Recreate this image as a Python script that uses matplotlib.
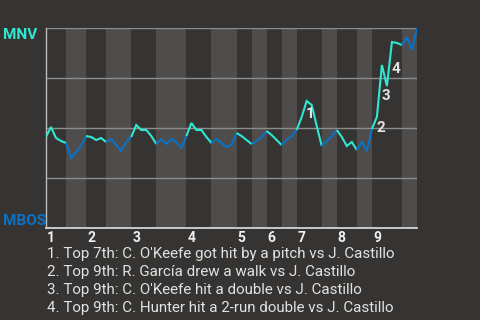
import matplotlib
matplotlib.use("Agg")
import matplotlib.pyplot as plt
import numpy as np

plt.rcParams['font.family'] = ['Roboto', 'DejaVu Sans']

# ---- data ----
away_team = "MNV"
home_team = "MBOS"
innings = ["1", "2", "3", "4", "5", "6", "7", "8", "9"]
# plate appearances per half-inning (top 1, bottom 1, top 2, ...)
half_pa = [4, 4, 4, 5, 5, 6, 5, 5, 3, 3, 3, 3, 5, 3, 4, 3, 6, 3]
# MNV win probability (%) after each plate appearance
win_prob = [45.5, 50.5, 45, 43.5, 42.5, 35, 38, 41, 46, 45.5,
            44, 45, 43, 44.5, 41.5, 38.5, 43, 45.5, 51.5, 49,
            49, 46, 42, 44.5, 42, 44.5, 43, 40, 46, 52.5,
            49, 49, 45.5, 42.5, 44.5, 42.5, 40.5, 41.5, 47.5, 46,
            44, 42, 43.5, 45.5, 48.5, 46.5, 44, 41.5, 44, 46,
            49, 55.5, 63.5, 61.5, 51, 41, 43.5, 46, 49, 45.5,
            41, 43, 39, 43, 38.5, 49.5, 55.5, 81.5, 71, 93,
            92.5, 91.5, 95.5, 89, 100]
event_index = [52, 66, 67, 69]
event_labels = ["1", "2", "3", "4"]
event_texts = [
    "1. Top 7th: C. O'Keefe got hit by a pitch vs J. Castillo",
    "2. Top 9th: R. García drew a walk vs J. Castillo",
    "3. Top 9th: C. O'Keefe hit a double vs J. Castillo",
    "4. Top 9th: C. Hunter hit a 2-run double vs J. Castillo",
]

# ---- style ----
BG = "#363432"
STRIPE = "#4f4d4b"
CYAN = "#2ee8d4"
BLUE = "#0a72c6"
GRID = "#8c8c8c"
TXT = "#e2e2e2"

W, H = 480, 320
fig = plt.figure(figsize=(W / 100, H / 100), dpi=100, facecolor=BG)
ax = fig.add_axes([46 / W, 1 - 228 / H, (417 - 46) / W, 200 / H])
ax.set_facecolor(BG)

bounds = np.concatenate([[0], np.cumsum(half_pa)])
n_total = bounds[-1]
ax.set_xlim(0, n_total)
ax.set_ylim(0, 100)

# stripes for bottom halves
for h in range(len(half_pa)):
    if h % 2 == 1:
        ax.axvspan(bounds[h], bounds[h + 1], color=STRIPE, lw=0, zorder=0)

# grid
for g in [25, 50, 75, 100]:
    ax.axhline(g, color=GRID, lw=1.0, zorder=1)

x = np.arange(len(win_prob))
wp = np.array(win_prob)
for h in range(len(half_pa)):
    s, e = bounds[h], bounds[h + 1]
    ax.plot(x[s:e + 1], wp[s:e + 1], color=CYAN if h % 2 == 0 else BLUE,
            lw=1.5, zorder=3, solid_joinstyle='miter', solid_capstyle='butt')

# event labels at midpoint of the jump segment
for idx, lab in zip(event_index, event_labels):
    mx = (x[idx - 1] + x[idx]) / 2
    my = (wp[idx - 1] + wp[idx]) / 2
    ax.annotate(lab, xy=(mx, my), xytext=(6, -5), textcoords='offset pixels',
                ha='center', va='center', color=TXT, fontsize=11,
                fontweight='bold', zorder=4)

for sp in ['top', 'right']:
    ax.spines[sp].set_visible(False)
ax.spines['left'].set_color("#bdbdbd")
ax.spines['left'].set_linewidth(1.0)
ax.spines['bottom'].set_color("#d4d4d4")
ax.spines['bottom'].set_linewidth(1.3)
ax.set_xticks([])
ax.set_yticks([])

# inning numbers
for i, lab in enumerate(innings):
    ax.annotate(lab, xy=(bounds[2 * i], 0), xytext=(1, -3),
                textcoords='offset pixels', ha='left', va='top',
                color="#f0f0f0", fontsize=10, fontweight='bold')

fig.text(3 / W, 1 - 28 / H, away_team, color=CYAN, fontsize=11,
         fontweight='bold', ha='left', va='top')
fig.text(3 / W, 1 - 225 / H, home_team, color=BLUE, fontsize=11,
         fontweight='bold', ha='left', va='baseline')

for k, t in enumerate(event_texts):
    fig.text(47 / W, 1 - (258.3 + 18 * k) / H, t, color=TXT, fontsize=10.9,
             ha='left', va='baseline')

fig.savefig("out.png", dpi=100, facecolor=BG)
